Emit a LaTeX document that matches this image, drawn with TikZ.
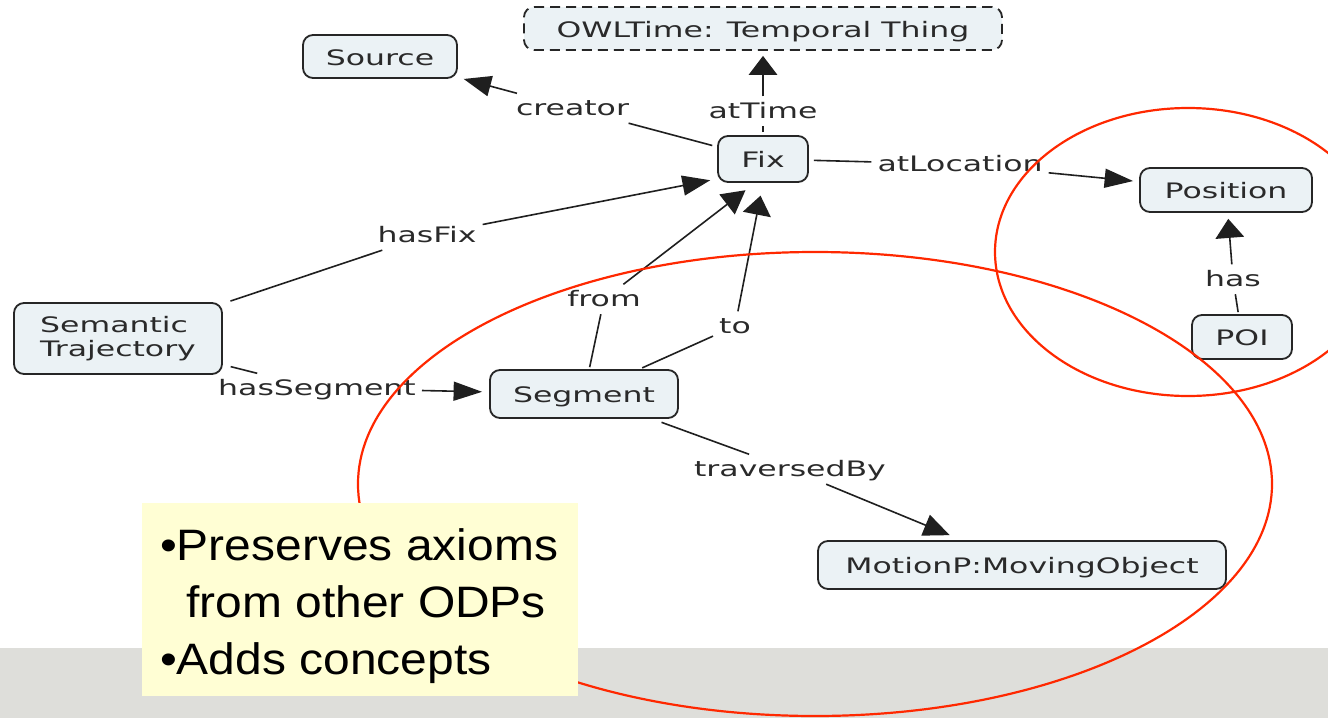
\documentclass[tikz,border=0pt]{standalone}
\usepackage{fontspec}
\setmainfont{Liberation Sans}
\newfontfamily\mapfont[FakeStretch=1.48]{DejaVu Sans}
\newfontfamily\notefont[FakeStretch=1.09]{Liberation Sans}
\usetikzlibrary{arrows.meta,calc}

\definecolor{conceptfill}{RGB}{235,242,245}
\definecolor{conceptline}{RGB}{38,38,38}
\definecolor{maptext}{RGB}{42,42,42}
\definecolor{ringred}{RGB}{255,40,0}
\definecolor{notefill}{RGB}{255,254,212}
\definecolor{bandgray}{RGB}{222,222,218}

\begin{document}
\begin{tikzpicture}[x=1pt,y=-1pt,
  concept/.style={draw=conceptline, line width=1.8pt, fill=conceptfill,
    rounded corners=10pt, font={\mapfont\fontsize{21.3}{24}\selectfont},
    text=maptext, inner sep=0pt},
  oneline/.style={text height=17.5pt, text depth=0pt},
  maplabel/.style={font={\mapfont\fontsize{21.3}{24}\selectfont}, text=maptext,
    inner xsep=6pt, inner ysep=4pt, text height=17.5pt, text depth=4pt},
  maplink/.style={draw=black!88, line width=1.6pt},
  maphead/.style 2 args={-{Triangle[length=#1pt,width=#2pt]}},
  notetext/.style={font={\notefont\fontsize{44}{57}\selectfont}, text=black,
    inner sep=0pt, anchor=base west},
  ring/.style={draw=ringred, line width=2.2pt}
]
\useasboundingbox (0,0) rectangle (1328,718);
\fill[white] (0,0) rectangle (1328,718);
\fill[bandgray] (0,648) rectangle (1328,718);

% concepts
\node[concept, oneline, minimum width=154pt, minimum height=43pt] (source) at (380,56.5) {Source};
\node[concept, oneline, dash pattern=on 10pt off 6pt, minimum width=478pt, minimum height=43pt] (owl) at (763,28.5) {OWLTime: Temporal Thing};
\node[concept, oneline, minimum width=90pt, minimum height=46pt] (fix) at (763,159) {Fix};
\node[concept, oneline, minimum width=172pt, minimum height=44pt] (position) at (1226,190) {Position};
\node[concept, oneline, minimum width=100pt, minimum height=44pt] (poi) at (1242,337) {POI};
\node[concept, align=left, minimum width=208pt, minimum height=71pt] (semtraj) at (118,338.5) {Semantic\\Trajectory};
\node[concept, oneline, minimum width=188pt, minimum height=48pt] (segment) at (584,394) {Segment};
\node[concept, oneline, minimum width=408pt, minimum height=48pt] (motion) at (1022,565) {MotionP:MovingObject};

% link labels
\node[maplabel] (lcreator) at (572.5,108.25) {creator};
\node[maplabel] (lattime) at (763,111.25) {atTime};
\node[maplabel] (latloc) at (960,164.25) {atLocation};
\node[maplabel] (lhasfix) at (427,235.25) {hasFix};
\node[maplabel] (lfrom) at (604,299.25) {from};
\node[maplabel] (lto) at (735,326.25) {to};
\node[maplabel] (lhasseg) at (317,388.25) {hasSegment};
\node[maplabel] (ltrav) at (790,469.25) {traversedBy};
\node[maplabel] (lhas) at (1233,279.25) {has};

% links: concept -- label -> concept
\draw[maplink, shorten <=5pt] (fix) -- (lcreator);
\draw[maplink, maphead={27.4}{20.6}, shorten >=6pt] (lcreator) -- (source);

\draw[maplink, shorten <=3pt] (fix) -- (lattime);
\draw[maplink, maphead={19}{28.5}, shorten >=5pt] (lattime) -- (owl);

\draw[maplink, shorten <=5pt] (fix) -- (latloc);
\draw[maplink, maphead={28.5}{19}, shorten >=6pt] (latloc) -- (position);

\draw[maplink, shorten <=8pt] (semtraj) -- (lhasfix);
\draw[maplink, maphead={27.8}{20}, shorten >=7pt] (lhasfix) -- ($(fix.south west)+(0,-4)$);

\draw[maplink, shorten <=2pt] (segment) -- (lfrom);
\draw[maplink, maphead={23.3}{25}, shorten >=12pt] (lfrom) -- ($(fix.south)+(-8,0)$);

\draw[maplink, shorten <=3pt] (segment) -- (lto);
\draw[maplink, maphead={19.2}{28.3}, shorten >=13pt] (lto) -- (fix.south);

\draw[maplink, shorten <=8pt] (semtraj) -- (lhasseg);
\draw[maplink, maphead={28.5}{19}, shorten >=7pt] (lhasseg) -- (segment);

\draw[maplink, shorten <=10pt] (segment) -- (ltrav);
\draw[maplink, maphead={26.1}{22.2}, shorten >=13pt] (ltrav) -- (motion);

\draw[maplink, shorten <=2pt] (poi) -- (lhas);
\draw[maplink, maphead={19}{28.5}, shorten >=6pt] (lhas) -- (position);

% highlight rings
\draw[ring] (815,484) ellipse [x radius=457, y radius=232];
\draw[ring] (1188,252) ellipse [x radius=193, y radius=144];

% note box
\fill[notefill] (142,503) rectangle (578,696);
\node[notetext] (note1) at (160,560) {•Preserves axioms};
\node[notetext] (note2) at (186,617) {from other ODPs};
\node[notetext] (note3) at (160,674) {•Adds concepts};
\end{tikzpicture}
\end{document}
